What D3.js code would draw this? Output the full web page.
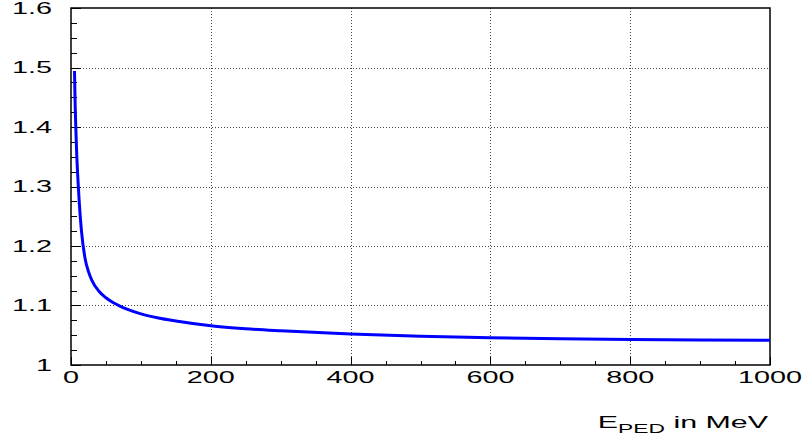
<!DOCTYPE html>
<html>
<head>
<meta charset="utf-8">
<script src="https://cdn.jsdelivr.net/npm/d3@7"></script>
<style>
  html, body { margin: 0; padding: 0; background: #fff; }
  svg { display: block; font-family: "Liberation Sans", Arial, sans-serif; }
</style>
</head>
<body>
<svg id="chart" width="807" height="441"></svg>
<script>
// energy (MeV) and ratio
const energies = [5, 6, 7, 8, 10, 12, 15, 20, 25, 30, 40, 50, 60, 70, 80, 100, 125, 150, 200, 250, 300, 400, 500, 600, 700, 800, 900, 1000];
const ratios = [1.494, 1.435, 1.395, 1.36, 1.31, 1.27, 1.225, 1.18, 1.157, 1.142, 1.124, 1.113, 1.105, 1.099, 1.094, 1.086, 1.079, 1.074, 1.066, 1.061, 1.0575, 1.052, 1.0485, 1.046, 1.044, 1.0428, 1.042, 1.0415];
const xTicks = [0, 200, 400, 600, 800, 1000];
const yTicks = [1, 1.1, 1.2, 1.3, 1.4, 1.5, 1.6];
const xLabel = { main: "E", sub: "PED", rest: " in MeV" };

const svg = d3.select("#chart");
const frame = { left: 71, right: 770, top: 8, bottom: 365 };
const stretch = 1.8; // ROOT's text is drawn wide

const x = d3.scaleLinear().domain([0, 1000]).range([frame.left, frame.right]);
const y = d3.scaleLinear().domain([1, 1.6]).range([frame.bottom, frame.top]);

// dotted grid
const grid = svg.append("g").attr("stroke", "#444").attr("stroke-width", 1)
  .attr("stroke-dasharray", "1,2");
xTicks.slice(1, -1).forEach(t => {
  grid.append("line")
    .attr("x1", Math.round(x(t)) + 0.5).attr("x2", Math.round(x(t)) + 0.5)
    .attr("y1", frame.top).attr("y2", frame.bottom);
});
yTicks.slice(1, -1).forEach(t => {
  grid.append("line")
    .attr("x1", frame.left).attr("x2", frame.right)
    .attr("y1", Math.round(y(t)) + 0.5).attr("y2", Math.round(y(t)) + 0.5);
});

// ticks drawn inside the frame, ROOT style
const ticks = svg.append("g").attr("stroke", "#000").attr("stroke-width", 1);
d3.range(0, 1001, 50).forEach(t => {
  const major = t % 200 === 0;
  const px = Math.round(x(t)) + 0.5;
  ticks.append("line").attr("x1", px).attr("x2", px)
    .attr("y1", frame.bottom).attr("y2", frame.bottom - (major ? 8 : 4));
});
d3.range(0, 25).forEach(i => {
  const t = 1 + i * 0.025;
  const major = i % 4 === 0;
  const py = Math.round(y(t)) + 0.5;
  ticks.append("line").attr("y1", py).attr("y2", py)
    .attr("x1", frame.left).attr("x2", frame.left + (major ? 10 : 6));
});

// frame
svg.append("rect")
  .attr("x", frame.left).attr("y", frame.top)
  .attr("width", frame.right - frame.left).attr("height", frame.bottom - frame.top)
  .attr("fill", "none").attr("stroke", "#000").attr("stroke-width", 1.5);

// tick labels
svg.append("g").selectAll("text").data(yTicks).join("text")
  .attr("transform", d => `translate(52,${y(d)}) scale(${stretch},1)`)
  .attr("dy", "0.36em")
  .attr("text-anchor", "end").attr("font-size", 16)
  .text(d => d3.format("~g")(d));

svg.append("g").selectAll("text").data(xTicks).join("text")
  .attr("transform", d => `translate(${x(d)},383) scale(${stretch},1)`)
  .attr("text-anchor", "middle").attr("font-size", 16)
  .text(d => d);

// axis title
const title = svg.append("text")
  .attr("transform", `translate(768,428) scale(1.9,1)`)
  .attr("text-anchor", "end").attr("font-size", 16);
title.append("tspan").text(xLabel.main);
title.append("tspan").attr("font-size", 12).attr("dy", 4.5).text(xLabel.sub);
title.append("tspan").attr("dy", -4.5).text(xLabel.rest);

// curve
const line = d3.line().x((d, i) => x(energies[i])).y(d => y(d)).curve(d3.curveMonotoneX);
svg.append("path").datum(ratios)
  .attr("d", line)
  .attr("fill", "none").attr("stroke", "#0000ff").attr("stroke-width", 3);
</script>
</body>
</html>
